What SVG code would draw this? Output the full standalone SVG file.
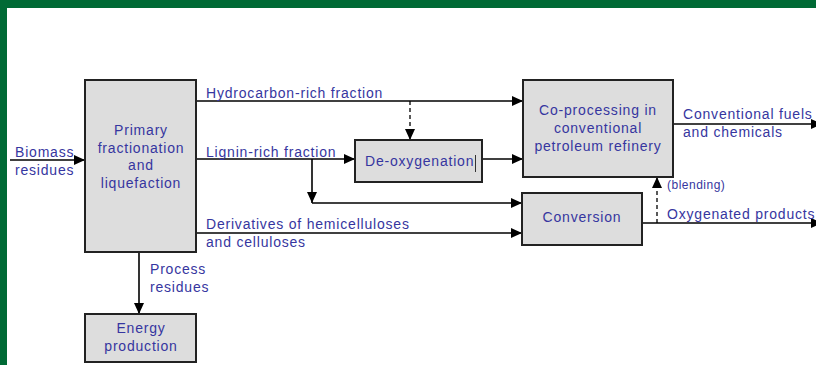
<svg xmlns="http://www.w3.org/2000/svg" width="816" height="365" viewBox="0 0 816 365">
<style>
.box{fill:#dddddd;stroke:#222222;stroke-width:2}
.t{font-family:"Liberation Sans",Arial,sans-serif;font-size:14px;fill:#3636a0;letter-spacing:0.8px}
.s{font-size:12px;letter-spacing:0.5px}
.c{text-anchor:middle}
.ln{stroke:#000;stroke-width:1.6;fill:none}
.d{stroke-dasharray:4,3;stroke-width:1.3}
</style>
<defs>
<marker id="ah" markerUnits="userSpaceOnUse" markerWidth="12" markerHeight="10" refX="11" refY="5" orient="auto">
<path d="M0,0 L11,5 L0,10 z" fill="#000"/>
</marker>
</defs>
<rect x="0" y="0" width="816" height="365" fill="#006a35"/>
<rect x="7" y="8" width="809" height="357" fill="#ffffff"/>

<g id="connectors">
<line class="ln" x1="10" y1="160" x2="85" y2="160" marker-end="url(#ah)"/>
<line class="ln" x1="196" y1="101" x2="523" y2="101" marker-end="url(#ah)"/>
<line class="ln d" x1="410" y1="101" x2="410" y2="140" marker-end="url(#ah)"/>
<line class="ln" x1="196" y1="159" x2="355" y2="159" marker-end="url(#ah)"/>
<line class="ln" x1="482" y1="159" x2="523" y2="159" marker-end="url(#ah)"/>
<line class="ln" x1="312" y1="159" x2="312" y2="203" marker-end="url(#ah)"/>
<line class="ln" x1="312" y1="203" x2="522" y2="203" marker-end="url(#ah)"/>
<line class="ln" x1="196" y1="233" x2="522" y2="233" marker-end="url(#ah)"/>
<line class="ln" x1="139" y1="252" x2="139" y2="314" marker-end="url(#ah)"/>
<line class="ln" x1="673" y1="124" x2="822" y2="124" marker-end="url(#ah)"/>
<line class="ln" x1="642" y1="223" x2="822" y2="223" marker-end="url(#ah)"/>
<line class="ln d" x1="657" y1="223" x2="657" y2="177" marker-end="url(#ah)"/>
</g>

<g id="primary">
<rect class="box" x="85" y="80" width="111" height="172"/>
<text class="t c" x="141" y="135">Primary</text>
<text class="t c" x="141" y="153">fractionation</text>
<text class="t c" x="141" y="170">and</text>
<text class="t c" x="141" y="188">liquefaction</text>
</g>
<g id="energy">
<rect class="box" x="85" y="314" width="111" height="48"/>
<text class="t c" x="141" y="333">Energy</text>
<text class="t c" x="141" y="351">production</text>
</g>
<g id="deoxygenation">
<rect class="box" x="355" y="140" width="127" height="42"/>
<text class="t" x="365" y="166">De-oxygenation</text>
<line x1="475.5" y1="155" x2="475.5" y2="172" stroke="#333" stroke-width="1"/>
</g>
<g id="coprocessing">
<rect class="box" x="523" y="80" width="150" height="97"/>
<text class="t c" x="598" y="115">Co-processing in</text>
<text class="t c" x="598" y="133">conventional</text>
<text class="t c" x="598" y="151">petroleum refinery</text>
</g>
<g id="conversion">
<rect class="box" x="522" y="193" width="120" height="52"/>
<text class="t c" x="582" y="222">Conversion</text>
</g>

<g id="labels">
<text class="t" x="15" y="157">Biomass</text>
<text class="t" x="15" y="175">residues</text>
<text class="t" x="206" y="98">Hydrocarbon-rich fraction</text>
<text class="t" x="206" y="157">Lignin-rich fraction</text>
<text class="t" x="206" y="229">Derivatives of hemicelluloses</text>
<text class="t" x="206" y="247">and celluloses</text>
<text class="t" x="150" y="274">Process</text>
<text class="t" x="150" y="292">residues</text>
<text class="t" x="683" y="119">Conventional fuels</text>
<text class="t" x="683" y="137">and chemicals</text>
<text class="t s" x="667" y="189">(blending)</text>
<text class="t" x="667" y="219">Oxygenated products</text>
</g>
</svg>
